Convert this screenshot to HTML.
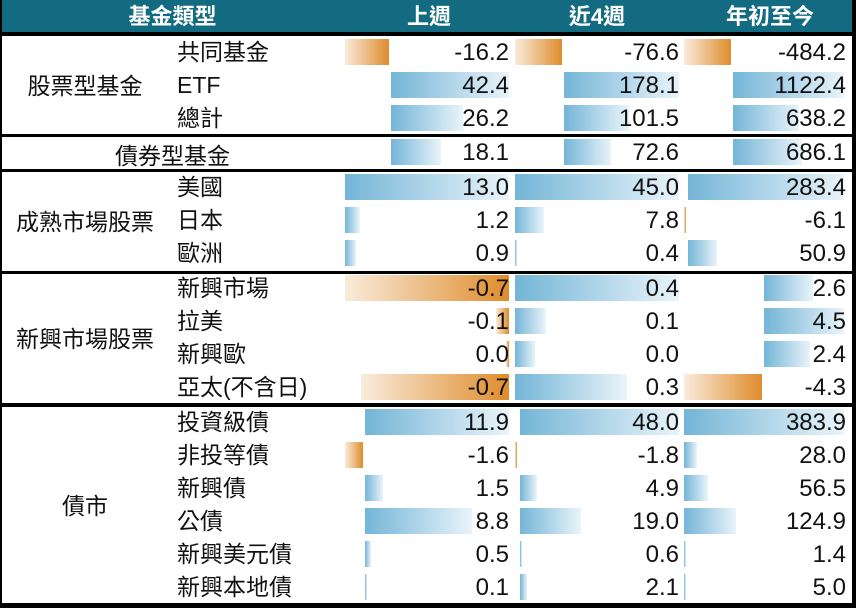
<!DOCTYPE html>
<html><head><meta charset="utf-8"><style>
body{margin:0;width:856px;height:608px;background:#fff;position:relative;overflow:hidden;font-family:"Liberation Sans","Noto Sans CJK TC",sans-serif;color:#111}
div{position:absolute}
.hd{top:0;height:33px;line-height:33px;color:#fff;font-weight:bold;font-size:22px;text-align:center}
.ln{left:0;width:856px;background:#000}
.b{background:linear-gradient(to right,#74b5d7,#e9f4fa);height:26px}
.o{background:linear-gradient(to right,#f9ebdc,#df8c2b);height:26px}
.t{font-size:23px;height:33px;line-height:33px;white-space:nowrap}
.n{text-align:right;width:130px;font-size:24px}
.c{font-size:23px;text-align:center;width:170px;left:0;line-height:33px}
</style></head><body>
<div style="left:0;top:0;width:856px;height:33px;background:#136b82"></div>
<div class="hd" style="left:0;width:345px">基金類型</div>
<div class="hd" style="left:345px;width:168px">上週</div>
<div class="hd" style="left:513px;width:168px">近4週</div>
<div class="hd" style="left:684px;width:172px">年初至今</div>
<div class="ln" style="top:32px;height:4px"></div>
<div class="ln" style="top:134px;height:3px"></div>
<div class="ln" style="top:169px;height:3px"></div>
<div class="ln" style="top:271px;height:3px"></div>
<div class="ln" style="top:403px;height:4px"></div>
<div class="ln" style="top:603px;height:5px"></div>
<div style="left:0;top:0;width:2px;height:608px;background:#000"></div>
<div style="left:852px;top:0;width:4px;height:608px;background:#000"></div>

<div class="c" style="top:70px">股票型基金</div>
<div class="c" style="top:140px;width:345px">債券型基金</div>
<div class="c" style="top:206px">成熟市場股票</div>
<div class="c" style="top:323px">新興市場股票</div>
<div class="c" style="top:490px">債市</div>

<div id="rows"></div>
<script>
var R=[
[39,"共同基金",[["o",345,389],["o",515,562],["o",684,731]],["-16.2","-76.6","-484.2"]],
[72,"ETF",[["b",391,509],["b",564,679],["b",733,844]],["42.4","178.1","1122.4"]],
[105,"總計",[["b",391,463],["b",564,629],["b",733,799]],["26.2","101.5","638.2"]],
[139,"",[["b",391,441],["b",564,611],["b",733,802]],["18.1","72.6","686.1"]],
[174,"美國",[["b",345,509],["b",515,679],["b",688,844]],["13.0","45.0","283.4"]],
[207,"日本",[["b",345,360],["b",515,544],["o",684,686]],["1.2","7.8","-6.1"]],
[240,"歐洲",[["b",345,356],["b",515,516],["b",688,717]],["0.9","0.4","50.9"]],
[275,"新興市場",[["o",345,509],["b",515,679],["b",764,813]],["-0.7","0.4","2.6"]],
[308,"拉美",[["o",496,509],["b",515,546],["b",764,844]],["-0.1","0.1","4.5"]],
[341,"新興歐",[["o",506,509],["b",515,535],["b",764,810]],["0.0","0.0","2.4"]],
[374,"亞太(不含日)",[["o",361,509],["b",515,627],["o",684,762]],["-0.7","0.3","-4.3"]],
[409,"投資級債",[["b",365,509],["b",520,679],["b",684,844]],["11.9","48.0","383.9"]],
[442,"非投等債",[["o",345,363],["o",515,517],["b",684,697]],["-1.6","-1.8","28.0"]],
[475,"新興債",[["b",365,383],["b",520,537],["b",684,708]],["1.5","4.9","56.5"]],
[508,"公債",[["b",365,472],["b",520,581],["b",684,736]],["8.8","19.0","124.9"]],
[541,"新興美元債",[["b",365,371],["b",520,522],["b",684,685]],["0.5","0.6","1.4"]],
[574,"新興本地債",[["b",365,367],["b",520,527],["b",684,686]],["0.1","2.1","5.0"]]];
var ends=[509,679,846],h="";
R.forEach(function(r){
 var y=r[0];
 if(r[1])h+='<div class="t" style="left:177px;top:'+(y-3)+'px">'+r[1]+'</div>';
 r[2].forEach(function(b){h+='<div class="'+b[0]+'" style="left:'+b[1]+'px;top:'+y+'px;width:'+Math.max(2,b[2]-b[1])+'px"></div>';});
 r[3].forEach(function(v,i){h+='<div class="t n" style="left:'+(ends[i]-130)+'px;top:'+(y-3)+'px">'+v+'</div>';});
});
document.getElementById("rows").outerHTML=h;
</script>
</body></html>
